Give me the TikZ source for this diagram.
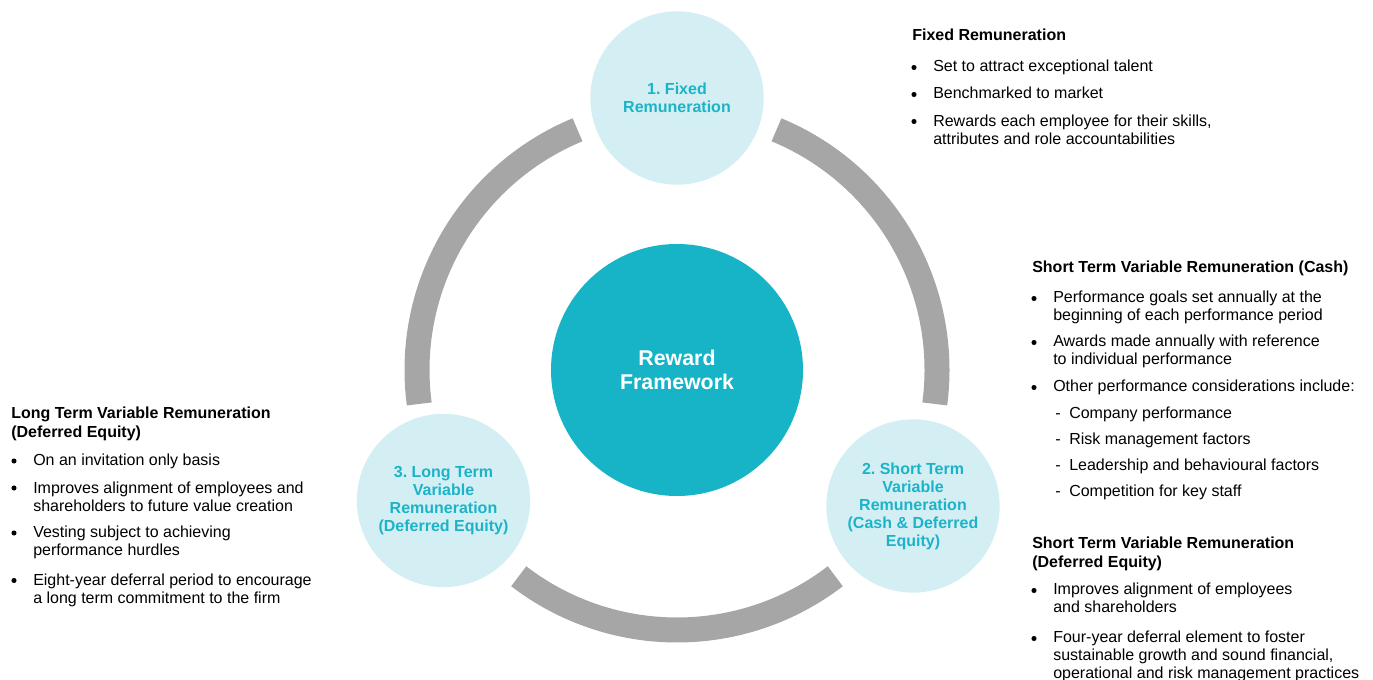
\documentclass[tikz,border=0pt]{standalone}
\usepackage{fontspec}
\setmainfont{Liberation Sans}
\frenchspacing
\definecolor{rwdark}{RGB}{22,180,198}
\definecolor{rwlight}{RGB}{211,239,243}
\definecolor{rwtext}{RGB}{28,179,200}
\definecolor{rwgrey}{RGB}{166,166,166}

\begin{document}
\begin{tikzpicture}[x=0.75pt,y=0.75pt,yscale=-1,xscale=1,
  head/.style={anchor=base west,inner sep=0pt,align=left,font=\fontsize{12}{14.25}\selectfont\bfseries},
  item/.style={anchor=base west,inner sep=0pt,align=left,font=\fontsize{12}{13.5}\selectfont},
  dot/.style={circle,fill=black,draw=none,inner sep=0pt,minimum size=3.8pt},
  stage/.style={circle,fill=rwlight,draw=none,minimum size=130pt,inner sep=0pt,align=center,text=rwtext,font=\fontsize{12}{13.5}\selectfont\bfseries},
  ring/.style={draw=rwgrey,line width=18.75pt}]
\useasboundingbox (0,0) rectangle (1373,680);
% multi-line nodes: the base anchor sits on the last line

%Shape: Circle (centre)
\node [circle,fill=rwdark,minimum size=189pt,inner sep=0pt,align=center,text=white,font=\fontsize{16}{18}\selectfont\bfseries] (reward) at (677,370) {Reward\\Framework};

%Arcs of the ring
\draw [ring] ([shift={(-112.5:260)}]reward.center) arc[start angle=-112.5,end angle=-187.5,radius=260];
\draw [ring] ([shift={(-232.5:260)}]reward.center) arc[start angle=-232.5,end angle=-307.5,radius=260];
\draw [ring] ([shift={(7.5:260)}]reward.center) arc[start angle=7.5,end angle=-67.5,radius=260];

%Shape: Circle (stages)
\node [stage] (fixed) at (677,98) {1. Fixed\\Remuneration};
\node [stage] (stvr) at (913,506) {2. Short Term\\Variable\\Remuneration\\(Cash \& Deferred\\Equity)};
\node [stage] (ltvr) at (443.5,500.5) {3. Long Term\\Variable\\Remuneration\\(Deferred Equity)};

%Text: fixed remuneration
\node [head] (fixhead) at (912,40.5) {Fixed Remuneration};
\node [dot] (fix1d) at (914,67.5) {};
\node [item] (fix1) at (933,72) {Set to attract exceptional talent};
\node [dot] (fix2d) at (914,94.5) {};
\node [item] (fix2) at (933,99) {Benchmarked to market};
\node [dot] (fix3d) at (914,121.5) {};
\node [item] (fix3) at (933,144.3) {Rewards each employee for their skills,\\attributes and role accountabilities};

%Text: short term cash
\node [head] (cashhead) at (1032,273) {Short Term Variable Remuneration (Cash)};
\node [dot] (cash1d) at (1034,298.5) {};
\node [item] (cash1) at (1053,321) {Performance goals set annually at the\\beginning of each performance period};
\node [dot] (cash2d) at (1034,342.5) {};
\node [item] (cash2) at (1053,364.5) {Awards made annually with reference\\to individual performance};
\node [dot] (cash3d) at (1034,387.5) {};
\node [item] (cash3) at (1053,392) {Other performance considerations include:};
\node [item] (cashd1) at (1055,418) {-};
\node [item] (cash4) at (1069,418) {Company performance};
\node [item] (cashd2) at (1055,444) {-};
\node [item] (cash5) at (1069,444) {Risk management factors};
\node [item] (cashd3) at (1055,470.5) {-};
\node [item] (cash6) at (1069,470.5) {Leadership and behavioural factors};
\node [item] (cashd4) at (1055,496.5) {-};
\node [item] (cash7) at (1069,496.5) {Competition for key staff};

%Text: short term deferred equity
\node [head] (defhead) at (1032,567.3) {Short Term Variable Remuneration\\(Deferred Equity)};
\node [dot] (def1d) at (1034,590.5) {};
\node [item] (def1) at (1053,612.7) {Improves alignment of employees\\and shareholders};
\node [dot] (def2d) at (1034,638.5) {};
\node [item] (def2) at (1053,678) {Four-year deferral element to foster\\sustainable growth and sound financial,\\operational and risk management practices};

%Text: long term deferred equity
\node [head] (ltvhead) at (11,437.3) {Long Term Variable Remuneration\\(Deferred Equity)};
\node [dot] (ltv1d) at (14,461) {};
\node [item] (ltv1) at (33,465.5) {On an invitation only basis};
\node [dot] (ltv2d) at (14,488) {};
\node [item] (ltv2) at (33,511) {Improves alignment of employees and\\shareholders to future value creation};
\node [dot] (ltv3d) at (14,533) {};
\node [item] (ltv3) at (33,555.7) {Vesting subject to achieving\\performance hurdles};
\node [dot] (ltv4d) at (14,580.5) {};
\node [item] (ltv4) at (33,603.3) {Eight-year deferral period to encourage\\a long term commitment to the firm};

\end{tikzpicture}
\end{document}
